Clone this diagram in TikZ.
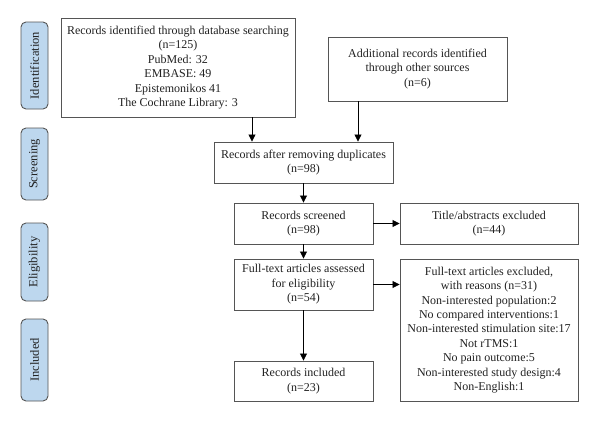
\documentclass[tikz,border=0pt]{standalone}
\usepackage{fontspec}
\setmainfont{Liberation Serif}
\usetikzlibrary{arrows.meta}
\definecolor{sidefill}{HTML}{BDD7EE}
\definecolor{boxline}{HTML}{555555}
\definecolor{txt}{HTML}{222222}
\begin{document}
\begin{tikzpicture}[x=1pt,y=-1pt,
  box/.style={draw=boxline,line width=0.9pt,fill=white,align=center,inner sep=0pt,text=txt,
    font=\fontsize{12}{14.4}\selectfont},
  side/.style={draw=boxline,line width=0.9pt,fill=sidefill,rounded corners=5pt,inner sep=0pt,
    minimum height=27pt,text=txt,rotate=90,font=\fontsize{12.5}{14}\selectfont},
  arr/.style={draw=black,line width=0.8pt,-{Triangle[length=7pt,width=7pt]}}]
\useasboundingbox (0,0) rectangle (600,423);
% side labels
\node[side,minimum width=87pt] (s1) at (34.5,65.5) {Identification};
\node[side,minimum width=72pt] (s2) at (34.5,164) {Screening};
\node[side,minimum width=78pt] (s3) at (34.5,262) {Eligibility};
\node[side,minimum width=82pt] (s4) at (34.5,360) {Included};
% boxes
\node[box,minimum width=234pt,minimum height=99pt] (b1) at (178,67.5)
  {Records identified through database searching\\(n=125)\\PubMed: 32\\EMBASE: 49\\Epistemonikos 41\\The Cochrane Library: 3};
\node[box,minimum width=179pt,minimum height=64pt] (b2) at (417.5,69)
  {Additional records identified\\through other sources\\(n=6)};
\node[box,minimum width=179pt,minimum height=41pt] (b3) at (303.5,162.5)
  {Records after removing duplicates\\(n=98)};
\node[box,minimum width=139pt,minimum height=41pt] (b4) at (303.5,223.5)
  {Records screened\\(n=98)};
\node[box,minimum width=178pt,minimum height=41pt] (b5) at (489,223.5)
  {Title/abstracts excluded\\(n=44)};
\node[box,minimum width=139pt,minimum height=51pt] (b6) at (303.5,284.5)
  {Full-text articles assessed\\for eligibility\\(n=54)};
\node[box,minimum width=178pt,minimum height=142pt] (b7) at (489,330)
  {Full-text articles excluded,\\with reasons (n=31)\\Non-interested population:2\\No compared interventions:1\\Non-interested stimulation site:17\\Not rTMS:1\\No pain outcome:5\\Non-interested study design:4\\Non-English:1};
\node[box,minimum width=139pt,minimum height=40pt] (b8) at (303.5,381)
  {Records included\\(n=23)};
% connectors
\coordinate (c1) at (252,0);
\coordinate (c2) at (358,0);
\draw[arr] (c1 |- b1.south) -- (c1 |- b3.north);
\draw[arr] (c2 |- b2.south) -- (c2 |- b3.north);
\draw[arr] (b3) -- (b4);
\draw[arr] (b4) -- (b5);
\draw[arr] (b4) -- (b6);
\draw[arr] (b6.east) -- (b6.east -| b7.west);
\draw[arr] (b6) -- (b8);
\end{tikzpicture}
\end{document}
